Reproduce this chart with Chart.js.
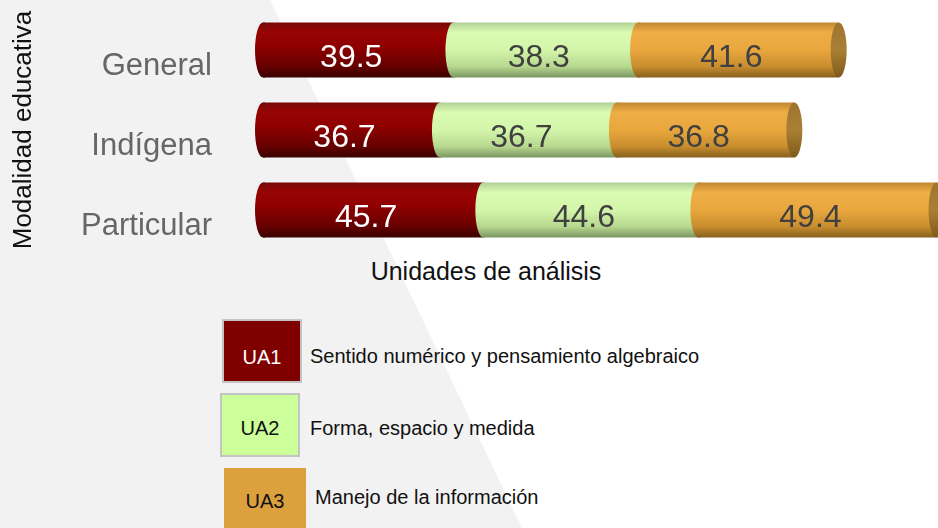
<!DOCTYPE html>
<html>
<head>
<meta charset="utf-8">
<script src="https://cdn.jsdelivr.net/npm/chart.js@4.4.0/dist/chart.umd.min.js"></script>
<style>
    body { margin: 0; width: 938px; height: 528px; overflow: hidden; background: #fff; position: relative;
           font-family: "Liberation Sans", Arial, sans-serif; }
    #bg { position: absolute; left: 0; top: 0; width: 938px; height: 528px; background: #f2f2f2;
          clip-path: polygon(0 0, 270px 0, 522px 528px, 0 528px); }
    #chart_wrap { position: absolute; left: 0; top: 0; }
    #x_title { position: absolute; left: 486px; top: 256px; transform: translateX(-50%);
               font-size: 25px; line-height: 30px; color: #111; white-space: nowrap; }
    .lg_box { position: absolute; width: 80px; height: 64px; box-sizing: border-box; border: 2px solid #c4c4c4;
              font-size: 20px; text-align: center; }
    .lg_text { position: absolute; font-size: 20px; line-height: 24px; color: #111; white-space: nowrap; }
</style>
</head>
<body>
<div id="bg"></div>
<div id="chart_wrap"><canvas id="chart_modalidad" width="938" height="250"></canvas></div>
<div id="x_title">Unidades de análisis</div>
<div id="legend"></div>
<script>
var categories = ['General', 'Indígena', 'Particular'];
var series_names = ['UA1', 'UA2', 'UA3'];
var ua1 = [39.5, 36.7, 45.7];
var ua2 = [38.3, 36.7, 44.6];
var ua3 = [41.6, 36.8, 49.4];
var legend_names = ['Sentido numérico y pensamiento algebraico', 'Forma, espacio y medida', 'Manejo de la información'];

// colours: legend swatch, bar gradient stops (top -> bottom), label colour
var swatch = ['#800000', '#ccff99', '#dca03c'];
var swatch_text = ['#fff', '#111', '#111'];
var bar_stops = [
    [[0, '#760808'], [0.18, '#990404'], [0.45, '#8e0000'], [0.78, '#680000'], [1, '#3a0000']],
    [[0, '#b0cf94'], [0.18, '#dafbb2'], [0.5, '#d3f6aa'], [0.8, '#b7d88f'], [1, '#7a9660']],
    [[0, '#c08630'], [0.18, '#eeae46'], [0.5, '#e9a73e'], [0.8, '#c88d2e'], [1, '#86601e']]
];
var cap_stops = [[0, '#9e7430'], [0.5, '#aa7f34'], [1, '#7e5a1c']];
var value_colors = ['#ffffff', '#404040', '#404040'];
var bar_pct = 0.69;
var cap_rx = 8;

var font_family = '"Liberation Sans", Arial, sans-serif';

var make_grad = function(ctx, yc, half, stops) {
    var g = ctx.createLinearGradient(0, yc - half, 0, yc + half);
    stops.forEach(function(s) { g.addColorStop(s[0], s[1]); });
    return g;
};

var bar_color = function(c) {
    var chart = c.chart;
    var y = chart.scales.y;
    var stops = bar_stops[c.datasetIndex];
    if (!y || !chart.chartArea) {
        return stops[2][1];
    }
    var step = Math.abs(y.getPixelForValue(1) - y.getPixelForValue(0));
    return make_grad(chart.ctx, y.getPixelForValue(c.dataIndex), step * bar_pct / 2, stops);
};

var cylinder_plugin = {
    id: 'cylinder',
    afterDatasetsDraw: function(chart) {
        var ctx = chart.ctx;
        var n = chart.data.datasets.length;
        ctx.save();
        for (var i = 0; i < n; i++) {
            var meta = chart.getDatasetMeta(i);
            meta.data.forEach(function(bar, j) {
                var p = bar.getProps(['x', 'y', 'base', 'height'], true);
                var half = p.height / 2;
                // rounded start of each segment (overlaps the body by 2px to hide the seam)
                ctx.beginPath();
                ctx.ellipse(p.base, p.y, cap_rx, half, 0, Math.PI / 2, Math.PI * 1.5);
                ctx.lineTo(p.base + 2, p.y - half);
                ctx.lineTo(p.base + 2, p.y + half);
                ctx.closePath();
                ctx.fillStyle = make_grad(ctx, p.y, half, bar_stops[i]);
                ctx.fill();
                if (i == n - 1) {
                    ctx.beginPath();
                    ctx.ellipse(p.x, p.y, cap_rx, half, 0, 0, Math.PI * 2);
                    ctx.fillStyle = make_grad(ctx, p.y, half, cap_stops);
                    ctx.fill();
                }
            });
        }
        // value labels
        ctx.font = '32px ' + font_family;
        ctx.textAlign = 'center';
        ctx.textBaseline = 'middle';
        for (var k = 0; k < n; k++) {
            var m = chart.getDatasetMeta(k);
            ctx.fillStyle = value_colors[k];
            m.data.forEach(function(bar, j) {
                var p = bar.getProps(['x', 'y', 'base'], true);
                var v = chart.data.datasets[k].data[j];
                ctx.fillText(v.toFixed(1), (p.x + p.base) / 2 - cap_rx + 1, p.y + 8);
            });
        }
        ctx.restore();
    }
};

var datasets = [ua1, ua2, ua3].map(function(vals, i) {
    return {
        label: series_names[i],
        data: vals,
        backgroundColor: bar_color,
        borderWidth: 0,
        borderSkipped: false,
        barPercentage: bar_pct,
        categoryPercentage: 1
    };
});

var modalidad_chart = new Chart(document.getElementById('chart_modalidad'), {
    type: 'bar',
    data: { labels: categories, datasets: datasets },
    plugins: [cylinder_plugin],
    options: {
        indexAxis: 'y',
        responsive: false,
        animation: false,
        devicePixelRatio: 1,
        layout: { padding: { top: 10, right: 0, bottom: 0, left: 0 } },
        plugins: { legend: { display: false }, tooltip: { enabled: false } },
        scales: {
            x: { stacked: true, min: 0, max: 140, display: false },
            y: {
                stacked: true,
                grid: { display: false, drawTicks: false },
                border: { display: false },
                ticks: {
                    color: '#666666',
                    padding: 51,
                    labelOffset: 16,
                    font: { size: 31, family: font_family }
                },
                title: {
                    display: true,
                    text: 'Modalidad educativa',
                    color: '#111',
                    padding: { top: 8, bottom: 0 },
                    font: { size: 26, family: font_family }
                },
                afterFit: function(scale) {
                    scale.width = 263;
                    // tick padding should only push labels sideways
                    scale.paddingTop = 0;
                    scale.paddingBottom = 0;
                }
            }
        }
    }
});

// legend boxes below the chart
var legend_pos = [
    { box: [222, 319], text: [310, 344], lh: 72 },
    { box: [220, 393], text: [310, 416], lh: 66 },
    { box: [224, 468], text: [315, 485], lh: 66 }
];
var legend = document.getElementById('legend');
series_names.forEach(function(name, i) {
    var box = document.createElement('div');
    box.className = 'lg_box';
    box.style.left = legend_pos[i].box[0] + 'px';
    box.style.top = legend_pos[i].box[1] + 'px';
    box.style.lineHeight = legend_pos[i].lh + 'px';
    box.style.background = swatch[i];
    box.style.color = swatch_text[i];
    if (i == 2) {
        box.style.border = 'none';
        box.style.height = '66px';
        box.style.width = '82px';
    }
    box.textContent = name;
    legend.appendChild(box);

    var txt = document.createElement('div');
    txt.className = 'lg_text';
    txt.style.left = legend_pos[i].text[0] + 'px';
    txt.style.top = legend_pos[i].text[1] + 'px';
    txt.textContent = legend_names[i];
    legend.appendChild(txt);
});
</script>
</body>
</html>
